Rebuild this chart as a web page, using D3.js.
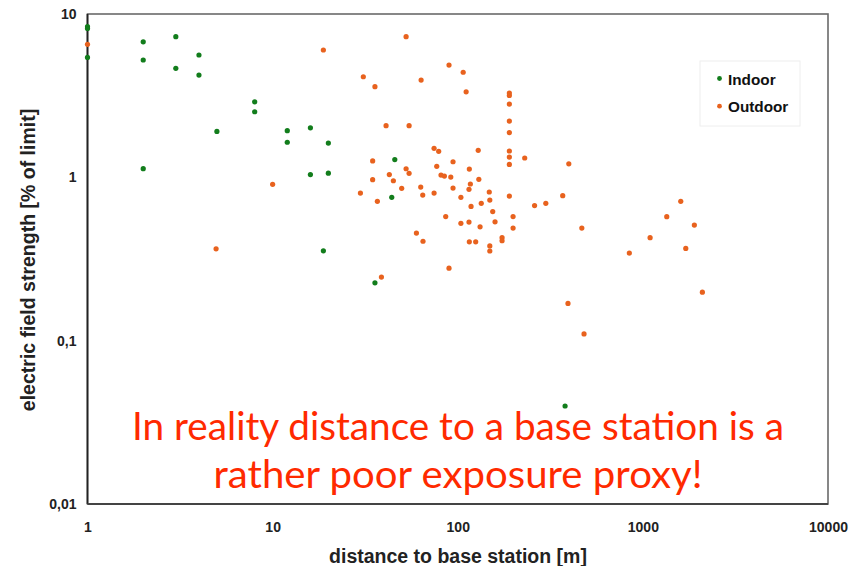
<!DOCTYPE html>
<html>
<head>
<meta charset="utf-8">
<script src="https://cdn.jsdelivr.net/npm/d3@7"></script>
<style>
html,body{margin:0;padding:0;background:#fff;}
svg{display:block;}
</style>
</head>
<body>
<svg id="chart" width="849" height="566"></svg>
<script>
// ---- data ----
const xTickValues = [1, 10, 100, 1000, 10000];
const xTickLabels = ["1", "10", "100", "1000", "10000"];
const yTickValues = [0.01, 0.1, 1, 10];
const yTickLabels = ["0,01", "0,1", "1", "10"];

const seriesNames = ["Indoor", "Outdoor"];

const indoorX = [1, 1, 1, 2, 2, 2, 3, 3, 4, 4, 5, 8, 8, 12, 12, 16, 16, 20, 20, 18.8, 45.7, 44, 35.7, 380];
const indoorY = [8.36, 8.15, 5.42, 6.76, 5.23, 1.13, 7.26, 4.65, 5.61, 4.23, 1.91, 2.90, 2.52, 1.93, 1.64, 2.01, 1.04, 1.62, 1.06, 0.355, 1.285, 0.754, 0.226, 0.0398];

const outdoorX = [1, 4.95, 10, 18.8, 52.6, 30.9, 35.7, 63.4, 89.7, 107, 111,
  190, 190, 190, 190, 190, 190, 190, 190, 190,
  41, 54.6, 74.5, 78.9, 129, 230, 398, 34.7, 94.3, 52.6, 54.6, 77, 115.5, 34.7, 42.7, 44.9, 81.2, 84.7, 91.7, 130, 117,
  29.8, 49.8, 63.1, 64.7, 74.5, 94.3, 115, 104, 148, 149, 36.8, 118, 134, 260, 299, 369, 154.5, 86.1, 199, 115, 104, 159,
  132, 199, 468, 59.8, 64.9, 115.5, 125, 173.5, 173.5, 149, 149, 38.7, 89.7, 845, 1094, 1346, 1602, 1897, 1705, 2096, 394, 481];
const outdoorY = [6.52, 0.365, 0.906, 6.02, 7.26, 4.13, 3.59, 3.94, 4.87, 4.40, 3.34,
  3.28, 3.17, 2.81, 2.21, 1.88, 1.45, 1.33, 1.20, 0.768,
  2.07, 2.07, 1.505, 1.443, 1.463, 1.313, 1.21, 1.26, 1.246, 1.129, 1.058, 1.168, 1.124, 0.967, 1.04, 0.953, 1.033, 1.018, 1.004, 0.972, 0.91,
  0.801, 0.856, 0.872, 0.779, 0.801, 0.86, 0.844, 0.754, 0.813, 0.726, 0.713, 0.664, 0.693, 0.672, 0.693, 0.772, 0.617, 0.575, 0.575, 0.532, 0.523, 0.534,
  0.498, 0.489, 0.489, 0.456, 0.406, 0.403, 0.403, 0.427, 0.409, 0.38, 0.354, 0.245, 0.278, 0.344, 0.427, 0.574, 0.713, 0.51, 0.367, 0.198, 0.169, 0.11];

const annotationLines = ["In reality distance to a base station is a", "rather poor exposure proxy!"];
const xTitle = "distance to base station [m]";
const yTitle = "electric field strength [% of limit]";

// ---- layout ----
const colors = {Indoor: "#127d1c", Outdoor: "#e8621e"};
const plot = {left: 87.5, right: 828, top: 14, bottom: 504};
const svg = d3.select("#chart");

const x = d3.scaleLog().domain([1, 10000]).range([plot.left, plot.right]);
const y = d3.scaleLog().domain([0.01, 10]).range([plot.bottom, plot.top]);

// frame
svg.append("rect")
  .attr("x", plot.left).attr("y", plot.top)
  .attr("width", plot.right - plot.left).attr("height", plot.bottom - plot.top)
  .attr("fill", "none").attr("stroke", "#6a6a6a").attr("stroke-width", 1.6);
svg.append("line").attr("x1", plot.left).attr("x2", plot.left).attr("y1", plot.top).attr("y2", plot.bottom)
  .attr("stroke", "#222").attr("stroke-width", 1.8);
svg.append("line").attr("x1", plot.left).attr("x2", plot.right).attr("y1", plot.bottom).attr("y2", plot.bottom)
  .attr("stroke", "#444").attr("stroke-width", 1.8);

// axes
const fontAxis = "'Liberation Sans', Arial, sans-serif";
const xAxis = d3.axisBottom(x).tickValues(xTickValues)
  .tickFormat((d, i) => xTickLabels[i]).tickSize(0).tickPadding(18);
const gx = svg.append("g").attr("transform", `translate(0,${plot.bottom})`).call(xAxis);
gx.select(".domain").remove();
gx.selectAll("text").attr("font-family", fontAxis).attr("font-weight", "bold")
  .attr("font-size", 14).attr("fill", "#222");

const yAxis = d3.axisLeft(y).tickValues(yTickValues)
  .tickFormat((d, i) => yTickLabels[i]).tickSize(0).tickPadding(11);
const gy = svg.append("g").attr("transform", `translate(${plot.left},0)`).call(yAxis);
gy.select(".domain").remove();
gy.selectAll("text").attr("font-family", fontAxis).attr("font-weight", "bold")
  .attr("font-size", 14).attr("fill", "#222");

// titles
svg.append("text").attr("x", 458).attr("y", 563).attr("text-anchor", "middle")
  .attr("font-family", fontAxis).attr("font-weight", "bold").attr("font-size", 19.5)
  .attr("fill", "#222").text(xTitle);
svg.append("text").attr("transform", "translate(35,260) rotate(-90)").attr("text-anchor", "middle")
  .attr("font-family", fontAxis).attr("font-weight", "bold").attr("font-size", 19.5)
  .attr("fill", "#222").text(yTitle);

// points
const outdoor = outdoorX.map((v, i) => ({x: v, y: outdoorY[i]}));
const indoor = indoorX.map((v, i) => ({x: v, y: indoorY[i]}));
svg.append("g").selectAll("circle").data(outdoor).join("circle")
  .attr("cx", d => x(d.x)).attr("cy", d => y(d.y)).attr("r", 2.6)
  .attr("fill", colors.Outdoor);
svg.append("g").selectAll("circle").data(indoor).join("circle")
  .attr("cx", d => x(d.x)).attr("cy", d => y(d.y)).attr("r", 2.6)
  .attr("fill", colors.Indoor);

// legend
const lg = svg.append("g");
lg.append("rect").attr("x", 700).attr("y", 61).attr("width", 100).attr("height", 65)
  .attr("fill", "#fff").attr("stroke", "#eeeeee").attr("stroke-width", 1);
seriesNames.forEach((name, i) => {
  lg.append("circle").attr("cx", 719.5).attr("cy", 78.5 + i * 27.7).attr("r", 2.4).attr("fill", colors[name]);
  lg.append("text").attr("x", 728).attr("y", 84.5 + i * 27.7)
    .attr("font-family", fontAxis).attr("font-weight", "bold").attr("font-size", 15.3)
    .attr("fill", "#111").text(name);
});

// annotation
const widths = [652, 489];
const baselines = [440, 488];
annotationLines.forEach((t, i) => {
  svg.append("text").attr("x", 458).attr("y", baselines[i]).attr("text-anchor", "middle")
    .attr("font-family", "Lato, 'Open Sans', sans-serif").attr("font-size", 38)
    .attr("fill", "#ff2a00")
    .attr("textLength", widths[i]).attr("lengthAdjust", "spacingAndGlyphs")
    .text(t);
});
</script>
</body>
</html>
